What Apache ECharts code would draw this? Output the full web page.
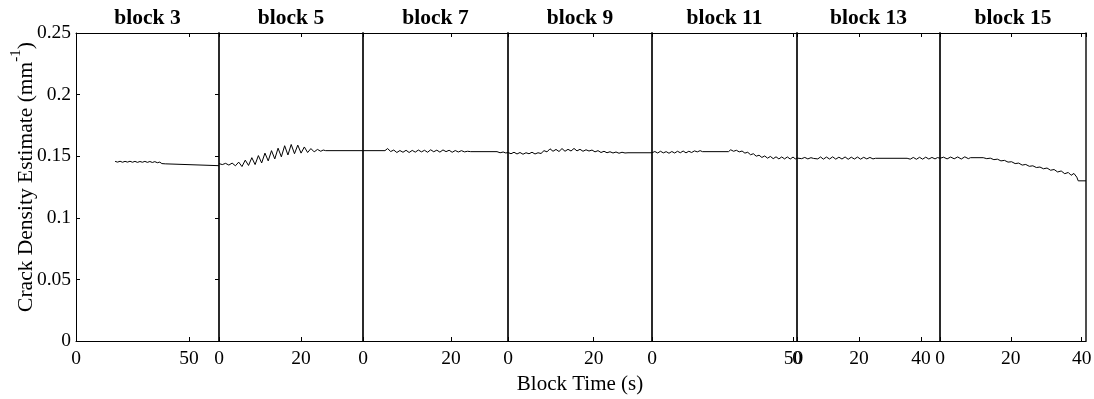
<!DOCTYPE html>
<html>
<head>
<meta charset="utf-8">
<script src="https://cdn.jsdelivr.net/npm/echarts@6/dist/echarts.min.js"></script>
<style>
html,body{margin:0;padding:0;background:#fff;}
#chart{width:1094px;height:399px;}
</style>
</head>
<body>
<div id="chart"></div>
<script>
// ---- data ----
const blockNames = ['block 3', 'block 5', 'block 7', 'block 9', 'block 11', 'block 13', 'block 15'];
const xMax = [63.3, 35.1, 33, 33.6, 51.2, 46.1, 41.2];
const xInterval = [50, 20, 20, 20, 50, 20, 20];
const yTicks = [0, 0.05, 0.1, 0.15, 0.2, 0.25];

const block3T = [17.3, 18.4, 19.5, 20.6, 21.7, 22.8, 23.9, 25.0, 26.1, 27.2, 28.3, 29.4, 30.5, 31.6, 32.7, 33.8, 34.9, 36.0, 37.1, 38.0, 38.8, 39.5, 40.2, 63.3];
const block3V = [0.1458, 0.1452, 0.1459, 0.1451, 0.1458, 0.1452, 0.1459, 0.1451, 0.1458, 0.1450, 0.1457, 0.1451, 0.1458, 0.1450, 0.1457, 0.1449, 0.1456, 0.1447, 0.1452, 0.1440, 0.1452, 0.1438, 0.1423, 0.1423];

const block5T = [0, 0.8, 1.6, 2.4, 3.2, 4.0, 4.8, 5.6, 6.4, 7.2, 8.0, 8.8, 9.6, 10.4, 11.2, 12.0, 12.8, 13.6, 14.4, 15.2, 16.0, 16.8, 17.6, 18.4, 19.2, 20.0, 20.8, 21.6, 22.4, 23.2, 24.0, 24.8, 25.4, 26.0, 35.1];
const block5V = [0.1440, 0.1432, 0.1442, 0.1428, 0.1444, 0.1422, 0.1452, 0.1416, 0.1468, 0.1425, 0.1488, 0.1432, 0.1505, 0.1445, 0.1525, 0.1462, 0.1545, 0.1478, 0.1565, 0.1495, 0.1585, 0.1510, 0.1595, 0.1520, 0.1590, 0.1525, 0.1575, 0.1530, 0.1562, 0.1535, 0.1555, 0.1540, 0.1550, 0.1545, 0.1545];

const block7T = [0, 5.0, 5.6, 6.3, 7.0, 7.7, 8.4, 9.1, 9.8, 10.5, 11.2, 11.9, 12.6, 13.3, 14.0, 14.7, 15.4, 16.1, 16.8, 17.5, 18.2, 18.9, 19.6, 20.3, 21.0, 21.7, 22.4, 23.1, 23.8, 24.5, 30.5, 31.2, 31.9, 32.5, 33];
const block7V = [0.1545, 0.1545, 0.1562, 0.1538, 0.1550, 0.1530, 0.1546, 0.1532, 0.1548, 0.1530, 0.1547, 0.1533, 0.1550, 0.1535, 0.1548, 0.1532, 0.1552, 0.1536, 0.1549, 0.1533, 0.1551, 0.1537, 0.1548, 0.1532, 0.1546, 0.1534, 0.1545, 0.1535, 0.1540, 0.1537, 0.1537, 0.1528, 0.1534, 0.1526, 0.1530];

const block9T = [0, 0.7, 1.4, 2.1, 2.8, 3.5, 4.2, 4.9, 5.6, 6.3, 7.0, 7.7, 8.4, 9.1, 9.8, 10.5, 11.2, 11.9, 12.6, 13.3, 14.0, 14.7, 15.4, 16.1, 16.8, 17.5, 18.2, 18.9, 19.6, 20.3, 21.0, 21.7, 22.4, 23.1, 23.8, 24.5, 25.2, 25.9, 26.6, 27.3, 28.0, 33.6];
const block9V = [0.1530, 0.1520, 0.1532, 0.1518, 0.1530, 0.1516, 0.1528, 0.1520, 0.1532, 0.1518, 0.1528, 0.1522, 0.1545, 0.1535, 0.1560, 0.1540, 0.1555, 0.1538, 0.1562, 0.1540, 0.1556, 0.1542, 0.1563, 0.1543, 0.1556, 0.1540, 0.1552, 0.1542, 0.1550, 0.1535, 0.1545, 0.1530, 0.1540, 0.1528, 0.1536, 0.1526, 0.1534, 0.1524, 0.1532, 0.1526, 0.1528, 0.1528];

const block11T = [0, 1, 2, 3, 4, 5, 6, 7, 8, 9, 10, 11, 12, 13, 14, 15, 16, 17, 17.8, 27.0, 27.8, 28.8, 29.8, 30.8, 31.8, 32.8, 33.8, 34.8, 35.8, 36.8, 37.8, 38.8, 39.8, 40.8, 41.8, 42.8, 43.8, 44.8, 45.8, 46.8, 47.8, 48.8, 49.8, 50.6, 51.2];
const block11V = [0.1528, 0.1538, 0.1526, 0.1540, 0.1527, 0.1537, 0.1524, 0.1538, 0.1526, 0.1540, 0.1528, 0.1542, 0.1527, 0.1540, 0.1530, 0.1543, 0.1535, 0.1545, 0.1537, 0.1537, 0.1552, 0.1540, 0.1548, 0.1535, 0.1542, 0.1525, 0.1532, 0.1512, 0.1520, 0.1500, 0.1508, 0.1490, 0.1502, 0.1484, 0.1498, 0.1480, 0.1495, 0.1478, 0.1494, 0.1478, 0.1494, 0.1477, 0.1493, 0.1478, 0.1485];

const block13T = [0, 1.5, 2.5, 3.5, 4.5, 5.3, 5.9, 6.7, 7.6, 8.5, 9.5, 10.5, 11.5, 12.5, 13.5, 14.5, 15.5, 16.5, 17.5, 18.5, 19.5, 20.5, 21.5, 22.5, 23.5, 24.5, 25.3, 35.5, 36.5, 37.5, 38.5, 39.5, 40.5, 41.5, 42.5, 43.5, 44.5, 45.3, 46.1];
const block13V = [0.1485, 0.1480, 0.1490, 0.1478, 0.1488, 0.1482, 0.1466, 0.1478, 0.1494, 0.1476, 0.1493, 0.1477, 0.1495, 0.1476, 0.1492, 0.1477, 0.1494, 0.1475, 0.1492, 0.1477, 0.1493, 0.1476, 0.1491, 0.1478, 0.1490, 0.1478, 0.1483, 0.1483, 0.1476, 0.1490, 0.1475, 0.1491, 0.1476, 0.1492, 0.1477, 0.1490, 0.1478, 0.1489, 0.1483];

const block15T = [0, 1, 2, 3, 4, 5, 6, 7, 8, 8.6, 12.2, 13.2, 14.2, 15.2, 16.2, 17.2, 18.2, 19.2, 20.2, 21.2, 22.2, 23.2, 24.2, 25.2, 26.2, 27.2, 28.2, 29.2, 30.2, 31.2, 32.2, 33.2, 34.2, 35.2, 36.2, 37.0, 37.8, 38.6, 39.0, 41.2];
const block15V = [0.1483, 0.1492, 0.1478, 0.1493, 0.1479, 0.1494, 0.1477, 0.1495, 0.1480, 0.1488, 0.1488, 0.1480, 0.1484, 0.1472, 0.1476, 0.1462, 0.1466, 0.1452, 0.1455, 0.1440, 0.1444, 0.1428, 0.1433, 0.1418, 0.1422, 0.1408, 0.1412, 0.1398, 0.1404, 0.1386, 0.1392, 0.1372, 0.1380, 0.1358, 0.1368, 0.1345, 0.1360, 0.1330, 0.1300, 0.1300];

const blockTimes = [block3T, block5T, block7T, block9T, block11T, block13T, block15T];
const blockValues = [block3V, block5V, block7V, block9V, block11V, block13V, block15V];

// ---- layout ----
const edges = [76, 219, 363, 508, 652, 797, 940, 1086];
const FONT = 'Liberation Serif';
const TICK_FS = 19.5;

const grids = [], xAxes = [], yAxes = [], series = [];
for (let i = 0; i < blockNames.length; i++) {
  grids.push({ left: edges[i], width: edges[i + 1] - edges[i], top: 33, height: 308, show: false, containLabel: false, outerBoundsMode: 'none' });
  // bottom x axis
  xAxes.push({
    type: 'value', gridIndex: i, position: 'bottom', min: 0, max: xMax[i], interval: xInterval[i],
    axisLine: { show: true, onZero: false, lineStyle: { color: '#000', width: 1 } },
    axisTick: { show: true, inside: true, length: 4, lineStyle: { color: '#000' } },
    axisLabel: { show: true, showMaxLabel: false, margin: 8, color: '#000', fontFamily: FONT, fontSize: TICK_FS },
    splitLine: { show: false },
    name: i === 3 ? 'Block Time (s)' : '',
    nameLocation: 'middle', nameGap: 33, nameMoveOverlap: false,
    nameTextStyle: { color: '#000', fontFamily: FONT, fontSize: 21 }
  });
  // top x axis (frame + block title)
  xAxes.push({
    type: 'value', gridIndex: i, position: 'top', min: 0, max: xMax[i], interval: xInterval[i],
    axisLine: { show: true, onZero: false, lineStyle: { color: '#000', width: 1 } },
    axisTick: { show: true, inside: true, length: 4, lineStyle: { color: '#000' } },
    axisLabel: { show: false },
    splitLine: { show: false },
    name: blockNames[i], nameLocation: 'middle', nameGap: 4,
    nameTextStyle: { color: '#000', fontFamily: FONT, fontSize: 21.5, fontWeight: 'bold', verticalAlign: 'bottom' }
  });
  // left y axis
  yAxes.push({
    type: 'value', gridIndex: i, position: 'left', min: 0, max: 0.25, interval: 0.05,
    axisLine: { show: true, onZero: false, lineStyle: { color: i === 0 ? '#000' : '#222', width: i === 0 ? 1 : 1.6 } },
    axisTick: { show: i === 0, inside: true, length: 4, lineStyle: { color: '#000' } },
    axisLabel: { show: i === 0, margin: 5, color: '#000', fontFamily: FONT, fontSize: TICK_FS },
    splitLine: { show: false },
    name: i === 0 ? 'Crack Density Estimate (mm{sup|-1})' : '',
    nameLocation: 'middle', nameGap: 33, nameRotate: 90, nameMoveOverlap: false,
    nameTextStyle: {
      color: '#000', fontFamily: FONT, fontSize: 21.5, lineHeight: 34, padding: [0, 0, 0, 20],
      rich: { sup: { fontFamily: FONT, fontSize: 15, lineHeight: 15, verticalAlign: 'top', color: '#000' } }
    }
  });
  // right y axis
  yAxes.push({
    type: 'value', gridIndex: i, position: 'right', min: 0, max: 0.25, interval: 0.05,
    axisLine: { show: true, onZero: false, lineStyle: { color: '#222', width: 1.6 } },
    axisTick: { show: i === 0, inside: true, length: 4, lineStyle: { color: '#000' } },
    axisLabel: { show: false },
    splitLine: { show: false }
  });
  series.push({
    type: 'line', xAxisIndex: 2 * i, yAxisIndex: 2 * i,
    data: blockTimes[i].map((t, k) => [t, blockValues[i][k]]),
    showSymbol: false, symbol: 'none', silent: true,
    lineStyle: { color: '#000', width: 1 }
  });
}

const chart = echarts.init(document.getElementById('chart'), null, { renderer: 'canvas' });
chart.setOption({
  animation: false,
  backgroundColor: '#fff',
  grid: grids,
  xAxis: xAxes,
  yAxis: yAxes,
  series: series
});
</script>
</body>
</html>
